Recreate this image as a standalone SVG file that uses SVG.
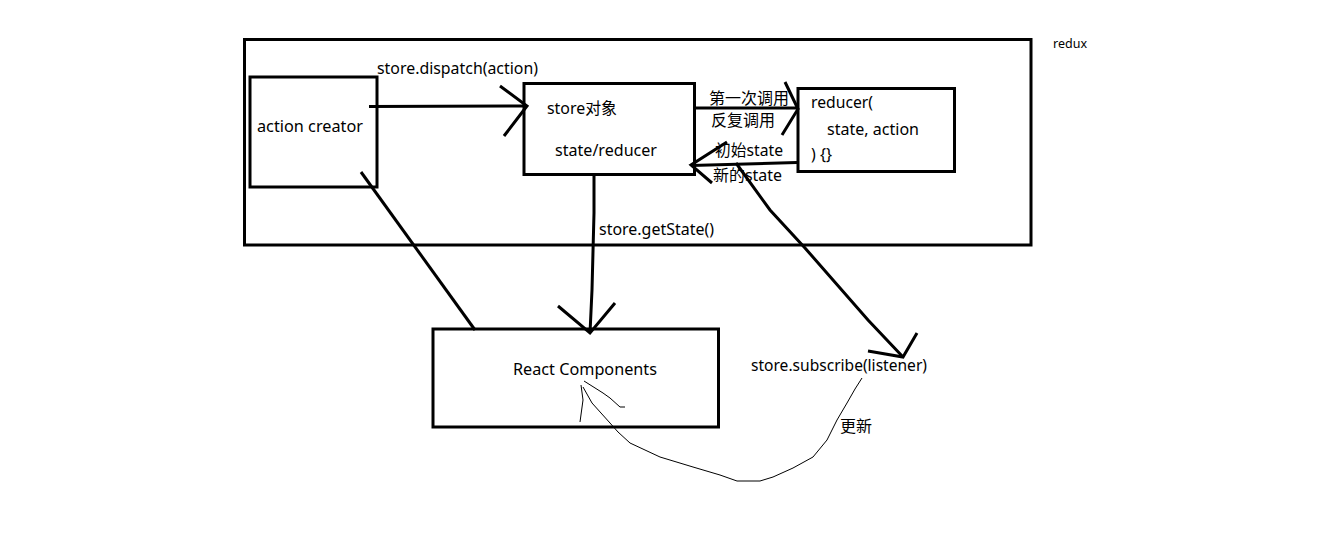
<svg xmlns="http://www.w3.org/2000/svg" width="1341" height="557" viewBox="0 0 1341 557">
<style>
.box{fill:none;stroke:#000;stroke-width:3}
.ln{fill:none;stroke:#000;stroke-width:3;stroke-linejoin:miter;stroke-linecap:butt}
.thin{fill:none;stroke:#000;stroke-width:1}
text{font-family:"Noto Sans","Noto Sans CJK SC",sans-serif;font-size:16px;fill:#000}
.small{font-size:13px}
</style>
<rect x="0" y="0" width="1341" height="557" fill="#fff"/>
<g id="redux">
<rect class="box" x="244.5" y="39.5" width="786.5" height="205.5"/>
<text class="small" x="1053" y="48" textLength="34" lengthAdjust="spacingAndGlyphs">redux</text>
</g>
<g id="action-creator">
<rect class="box" x="250" y="77" width="127" height="110"/>
<text x="257" y="132" textLength="106" lengthAdjust="spacingAndGlyphs">action creator</text>
</g>
<g id="store">
<rect class="box" x="524" y="83.5" width="170.5" height="91"/>
<text x="547" y="114" textLength="70" lengthAdjust="spacingAndGlyphs">store对象</text>
<text x="555" y="156" textLength="102" lengthAdjust="spacingAndGlyphs">state/reducer</text>
</g>
<g id="reducer">
<rect class="box" x="798" y="88.5" width="156.5" height="83"/>
<text x="811" y="108" textLength="62" lengthAdjust="spacingAndGlyphs">reducer(</text>
<text x="827" y="135" textLength="92" lengthAdjust="spacingAndGlyphs">state, action</text>
<text x="811" y="160" textLength="21" lengthAdjust="spacingAndGlyphs">) {}</text>
</g>
<g id="react-components">
<rect class="box" x="433" y="329" width="285.5" height="98"/>
<text x="513" y="375" textLength="144" lengthAdjust="spacingAndGlyphs">React Components</text>
</g>
<g id="connectors">
<polyline class="ln" points="369,106.5 527,106"/>
<polyline class="ln" points="500,86 527,106 504,136"/>
<text x="377" y="74" textLength="161" lengthAdjust="spacingAndGlyphs">store.dispatch(action)</text>
<polyline class="ln" points="696,108 798,108"/>
<polyline class="ln" points="785,82 798,109 782,135"/>
<text x="709" y="104" textLength="80" lengthAdjust="spacingAndGlyphs">第一次调用</text>
<text x="711" y="125.5" textLength="64" lengthAdjust="spacingAndGlyphs">反复调用</text>
<polyline class="ln" points="797,162.5 691,165.5"/>
<polyline class="ln" points="727,142 691,165 712,183"/>
<text x="715" y="156" textLength="68" lengthAdjust="spacingAndGlyphs">初始state</text>
<text x="713" y="180.5" textLength="69" lengthAdjust="spacingAndGlyphs">新的state</text>
<polyline class="ln" points="594,175 594,213 592,290 590,333"/>
<polyline class="ln" points="558,306 590,333 615,303"/>
<text x="599" y="235" textLength="115" lengthAdjust="spacingAndGlyphs">store.getState()</text>
<polyline class="ln" points="361,172 475,330"/>
<polyline class="ln" points="736,163 770,210 805,248 868,320 903,357"/>
<polyline class="ln" points="868,351 903,357 917,333"/>
<text x="751" y="371" textLength="176" lengthAdjust="spacingAndGlyphs">store.subscribe(listener)</text>
<path class="thin" d="M862,378 L855,389 L847,403 L837,420 L827,440 L813,457 L793,468 L773,477 L760,481 L737,481 L720,475 L693,467 L660,457 L630,443 L618,432 L610,423 L592,403 L583,387"/>
<polyline class="thin" points="581,385 583,400 580,422"/>
<polyline class="thin" points="584,381 603,393 610,398 620,407 625,407"/>
<text x="840" y="432" textLength="32" lengthAdjust="spacingAndGlyphs">更新</text>
</g>
</svg>
